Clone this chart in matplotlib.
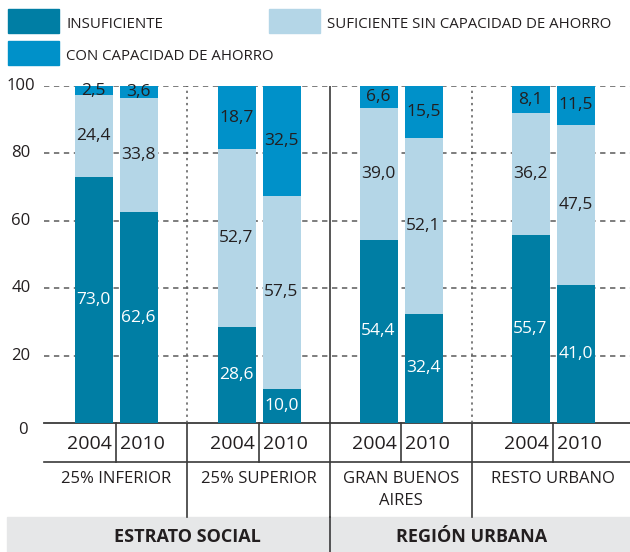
import matplotlib
matplotlib.use('Agg')
import matplotlib.pyplot as plt
from matplotlib.patches import Rectangle

plt.rcParams['font.family'] = ['Open Sans', 'DejaVu Sans']

# data
years = ['2004', '2010']
groups = ['25% INFERIOR', '25% SUPERIOR', 'GRAN BUENOS\nAIRES', 'RESTO URBANO']
sections = ['ESTRATO SOCIAL', 'REGIÓN URBANA']
series = ['INSUFICIENTE', 'SUFICIENTE SIN CAPACIDAD DE AHORRO', 'CON CAPACIDAD DE AHORRO']
insuficiente = [73.0, 62.6, 28.6, 10.0, 54.4, 32.4, 55.7, 41.0]
sin_ahorro = [24.4, 33.8, 52.7, 57.5, 39.0, 52.1, 36.2, 47.5]
con_ahorro = [2.5, 3.6, 18.7, 32.5, 6.6, 15.5, 8.1, 11.5]
yticks = [0, 20, 40, 60, 80, 100]

colors = ['#007ea4', '#b4d6e7', '#0091c9']
txt = '#231f20'
line = '#3a3a3a'

W, H = 630, 552
fig = plt.figure(figsize=(W / 100, H / 100), dpi=100)

# overlay in pixel units for legend / table
lay = fig.add_axes([0, 0, 1, 1])
lay.set_xlim(0, W)
lay.set_ylim(H, 0)
lay.axis('off')

# main chart area: x in pixel units, y in percent
top, base, left = 86, 423, 44
ax = fig.add_axes([left / W, (H - base) / H, (W - left) / W, (base - top) / H])
ax.set_xlim(left, W)
ax.set_ylim(0, 100)
ax.axis('off')

group_cx = [116, 259, 401, 553]
seps = [187, 330, 472]
xs = []
for c in group_cx:
    xs += [c - 22.5, c + 22.5]

bottoms = [0] * len(xs)
for vals, col in zip([insuficiente, sin_ahorro, con_ahorro], colors):
    ax.bar(xs, vals, width=38, bottom=bottoms, color=col, zorder=3)
    for x, b, v in zip(xs, bottoms, vals):
        tc = 'white' if col == colors[0] else txt
        ax.text(x, b + v / 2, f'{v:.1f}'.replace('.', ','), ha='center', va='center',
                fontsize=12.5, color=tc, zorder=4)
    bottoms = [b + v for b, v in zip(bottoms, vals)]

# grid
for t in yticks[1:]:
    ax.plot([left, W], [t, t], color='#5a5a5a', lw=1.1, dashes=(3.5, 3), zorder=1)
    ax.text(21, t, str(t), ha='center', va='center', fontsize=12, color=txt, clip_on=False)
ax.text(23, -2, '0', ha='center', va='center', fontsize=12, color=txt, clip_on=False)
ax.plot([seps[0]] * 2, [0, 100], color='#5a5a5a', lw=1.1, dashes=(1.5, 2.5), zorder=1)
ax.plot([seps[2]] * 2, [0, 100], color='#5a5a5a', lw=1.1, dashes=(1.5, 2.5), zorder=1)
ax.plot([seps[1]] * 2, [0, 100], color=line, lw=1.2, zorder=1)

# table below
lay.add_patch(Rectangle((7, 517), W - 7, H - 517, color='#e6e7e8', zorder=0))
lay.plot([left, W], [423, 423], color=line, lw=1.3)
lay.plot([left, W], [462, 462], color=line, lw=1.2)
for c in group_cx:
    lay.plot([c, c], [423, 462], color=line, lw=1.2)
for s in seps:
    lay.plot([s, s], [423, 517], color=line, lw=1.2)
lay.plot([seps[1], seps[1]], [517, H], color=line, lw=1.2)

for c in group_cx:
    lay.text(c - 4, 444, years[0], ha='right', va='center', fontsize=14, color=txt)
    lay.text(c + 4, 444, years[1], ha='left', va='center', fontsize=14, color=txt)
for c, g in zip(group_cx, groups):
    lay.text(c, 471, g, ha='center', va='top', fontsize=12, color=txt, linespacing=1.5)
lay.text(187, 537, sections[0], ha='center', va='center', fontsize=13, fontweight='bold', color=txt)
lay.text(472, 537, sections[1], ha='center', va='center', fontsize=13, fontweight='bold', color=txt)

# legend
leg = [(8, 9, series[0], colors[0]), (269, 9, series[1], colors[1]), (8, 41, series[2], colors[2])]
for x, y, lab, col in leg:
    lay.add_patch(Rectangle((x, y), 51, 23.5, color=col))
    lay.text(x + 58, y + 16, lab, ha='left', va='center', fontsize=10.8, color=txt)

fig.savefig('out.png', dpi=100)
